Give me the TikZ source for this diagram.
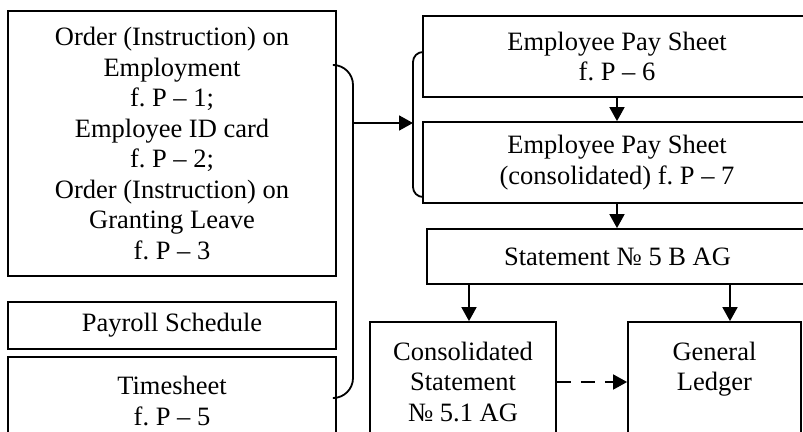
\documentclass[tikz,border=0pt]{standalone}
\usepackage{fontspec}
\setmainfont{Liberation Serif}
\usetikzlibrary{arrows.meta}
\frenchspacing
\begin{document}
\begin{tikzpicture}[x=1pt,y=-1pt,
  box/.style={draw,line width=1.8pt,inner sep=0pt,align=center,
    font=\fontsize{26.5}{30.5}\selectfont},
  arr/.style={line width=1.8pt,-{Triangle[length=14pt,width=15pt]}},
  brace/.style={line width=1.8pt}]
\useasboundingbox (0,0) rectangle (803,431);
\clip (0,0) rectangle (803,431);

% left column of source documents
\node[box,minimum width=328,minimum height=265] (orders) at (172,143.5)
  {Order (Instruction) on\\Employment\\f. P -- 1;\\Employee ID card\\f. P -- 2;\\Order (Instruction) on\\Granting Leave\\f. P -- 3};
\node[box,minimum width=328,minimum height=47] (sched) at (172,325.5)
  {Payroll Schedule};
\node[box,minimum width=328,minimum height=88] (times) at (172,401)
  {Timesheet\\f. P -- 5};

% pay sheets and statements (they run on past the right margin)
\node[box,minimum width=388,minimum height=81] (ps6) at (617,56.5)
  {Employee Pay Sheet\\f. P -- 6};
\node[box,minimum width=388,minimum height=81] (ps7) at (617,162.5)
  {Employee Pay Sheet\\(consolidated) f. P -- 7};
\node[box,minimum width=381,minimum height=55] (st5) at (617.5,256.5)
  {Statement № 5 B AG};
\node[box,minimum width=186,minimum height=119] (st51) at (463,381.5)
  {Consolidated\\Statement\\№ 5.1 AG};
\node[box,minimum width=173,minimum height=119] (gl) at (714.5,381.5)
  {General\\Ledger\\\phantom{X}};

% brace grouping the left column
\coordinate (lbt) at (orders.east |- 0,65);
\coordinate (lbb) at (times.east |- 0,398);
\coordinate (lbm) at (353,123);
\draw[brace,rounded corners=20pt] (lbt) -- (lbm |- lbt) -- (lbm |- lbb) -- (lbb);

% brace grouping the two pay sheets
\coordinate (rbt) at (ps6.west |- 0,52);
\coordinate (rbb) at (ps7.west |- 0,197);
\coordinate (rbm) at (413,123);
\draw[brace,rounded corners=10pt] (rbt) -- (rbm |- rbt) -- (rbm |- rbb) -- (rbb);

\draw[arr] (lbm) -- (rbm);

% flow between documents
\coordinate (cx) at (617,0);
\draw[arr] (ps6.south -| cx) -- (ps7.north -| cx);
\draw[arr] (ps7.south -| cx) -- (st5.north -| cx);
\coordinate (lx) at (469,0);
\coordinate (rx) at (730,0);
\draw[arr] (st5.south -| lx) -- (st51.north -| lx);
\draw[arr] (st5.south -| rx) -- (gl.north -| rx);
\draw[arr,dash pattern=on 14pt off 10pt] (st51.east |- 0,382) -- (gl.west |- 0,382);
\end{tikzpicture}
\end{document}
